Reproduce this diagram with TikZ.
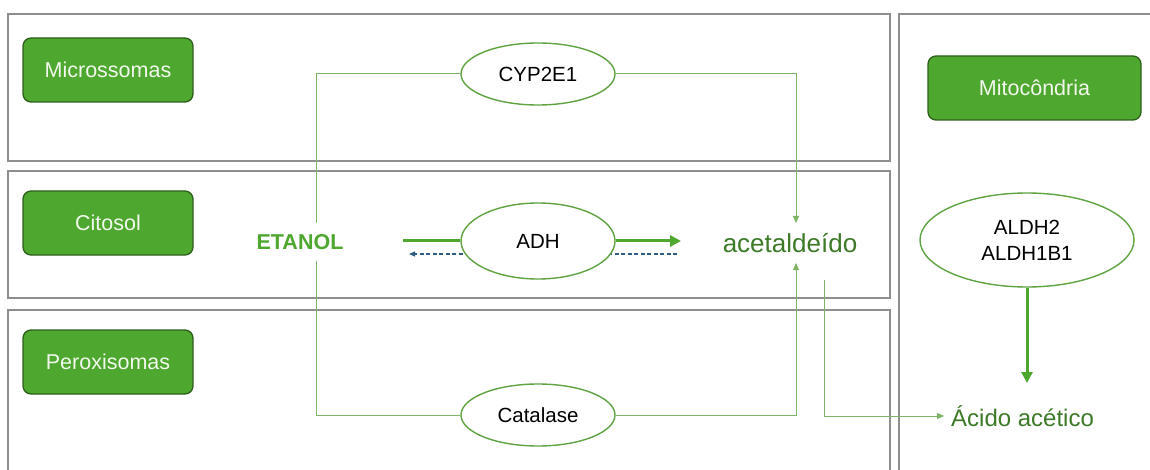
\documentclass[tikz,border=0pt]{standalone}
\usepackage{fontspec}
\setmainfont{Liberation Sans}
\usetikzlibrary{shapes.geometric,arrows.meta}
\definecolor{panelgray}{HTML}{8E8E8E}
\definecolor{boxgreen}{HTML}{4EA72E}
\definecolor{boxedge}{HTML}{2E5E1C}
\definecolor{thingreen}{HTML}{7DB466}
\definecolor{ellgreen}{HTML}{5FA342}
\definecolor{txtgreen}{HTML}{3D7A28}
\definecolor{dashblue}{HTML}{2F5C85}
\definecolor{labeltext}{HTML}{F2F8EE}
\tikzset{
  panel/.style={draw=panelgray, line width=1.6pt},
  labelbox/.style={rectangle, rounded corners=8pt, fill=boxgreen, draw=boxedge, line width=1.3pt,
    text=labeltext, minimum width=170pt, minimum height=64pt, inner sep=0pt, font=\fontsize{21.5}{24}\selectfont},
  enzyme/.style={ellipse, draw=ellgreen, line width=1.4pt, fill=white, inner sep=0pt,
    minimum width=154pt, minimum height=62pt, font=\fontsize{20.5}{24}\selectfont, align=center},
  metab/.style={text=txtgreen, inner sep=1pt},
  thinarrow/.style={draw=thingreen, line width=1pt, -{Triangle[length=7pt,width=6pt]}},
  thinline/.style={draw=thingreen, line width=1pt},
  thickarrow/.style={draw=boxgreen, line width=3pt, -{Triangle[length=11pt,width=11pt]}},
  thickline/.style={draw=boxgreen, line width=3pt},
  backarrow/.style={draw=dashblue, line width=1.1pt, dashed, dash pattern=on 4pt off 2.5pt, -{Triangle[length=6pt,width=5pt]}}
}
\begin{document}
\begin{tikzpicture}[x=1pt,y=-1pt]
\clip (0,0) rectangle (1150,470);
\fill[white] (0,0) rectangle (1150,470);
% panels
\draw[panel] (8,14) rectangle (890,161);
\draw[panel] (8,171) rectangle (890,298);
\draw[panel] (8,310) rectangle (890,490);
\draw[panel] (899,14) rectangle (1170,490);
% compartment labels
\node[labelbox] (micro) at (108,70) {Microssomas};
\node[labelbox] (cito) at (108,223) {Citosol};
\node[labelbox] (perox) at (108,362) {Peroxisomas};
\node[labelbox, minimum width=213pt] (mito) at (1034.5,88) {Mitocôndria};
% helper coordinates
\coordinate (lt) at (316,74);
\coordinate (lb) at (316,415);
\coordinate (rt) at (796,74);
\coordinate (rb) at (796,415);
\coordinate (aceto) at (796,223);
\coordinate (aceti) at (796,263);
\coordinate (adhin) at (403,241);
\coordinate (adhout) at (681,241);
\coordinate (back0) at (677,254);
\coordinate (back1) at (409,254);
\coordinate (ac0) at (824,280);
\coordinate (ac1) at (824,416);
\coordinate (acid) at (944,416);
\coordinate (aldhtip) at (1027,383);
% background lines
\draw[thinline] (lt) -- (lb);
\node[text=boxgreen, font=\fontsize{21.5}{24}\selectfont\bfseries, fill=white, inner sep=0pt, minimum height=38pt] (etanol) at (300,242) {ETANOL};
\draw[backarrow] (back0) -- (back1);
% enzymes
\node[enzyme] (cyp) at (538,74) {CYP2E1};
\node[enzyme, minimum height=76pt] (adh) at (538,241) {ADH};
\node[enzyme] (cat) at (538,415) {Catalase};
\node[enzyme, minimum width=214pt, minimum height=94pt, font=\fontsize{20.5}{26}\selectfont] (aldh) at (1027,240) {ALDH2\\ALDH1B1};
% metabolites
\node[metab, font=\fontsize{26}{30}\selectfont] (acet) at (790,243) {acetaldeído};
\node[metab, anchor=west, font=\fontsize{24}{28}\selectfont] (acido) at (950,416) {Ácido acético};
% connectors
\draw[thinline] (cyp.west) -- (lt);
\draw[thinline] (lb) -- (cat.west);
\draw[thinarrow] (cyp.east) -- (rt) -- (aceto);
\draw[thinarrow] (cat.east) -- (rb) -- (aceti);
\draw[thickline] (adhin) -- (adh.west);
\draw[thickarrow] (adh.east) -- (adhout);
\draw[thinarrow] (ac0) -- (ac1) -- (acid);
\draw[thickarrow] (aldh.south) -- (aldhtip);
\end{tikzpicture}
\end{document}
